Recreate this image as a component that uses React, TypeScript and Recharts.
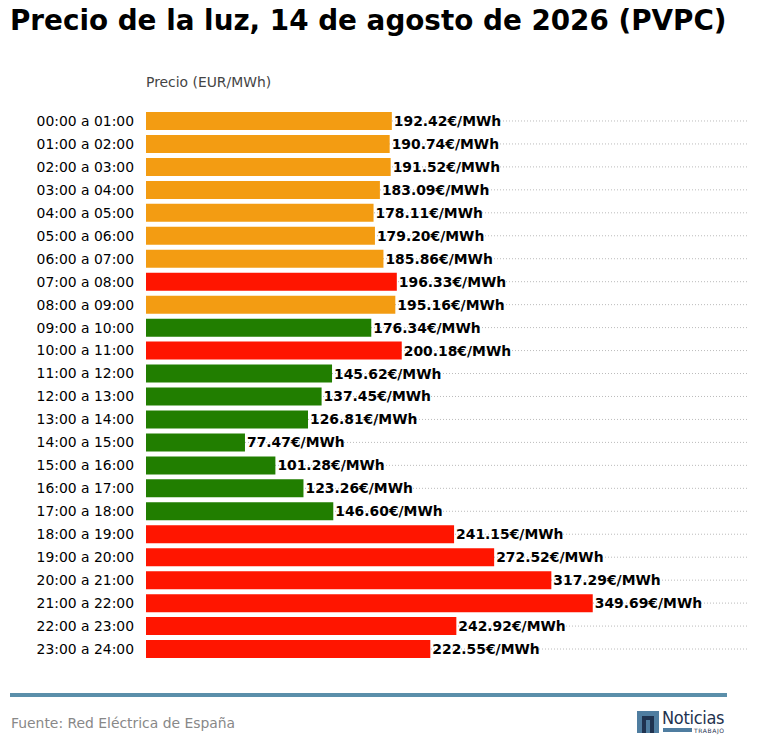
import React from "react";
import {
  Bar,
  BarChart,
  CartesianGrid,
  Cell,
  LabelList,
  XAxis,
  YAxis,
} from "recharts";

const horas = [
  "00:00 a 01:00", "01:00 a 02:00", "02:00 a 03:00", "03:00 a 04:00",
  "04:00 a 05:00", "05:00 a 06:00", "06:00 a 07:00", "07:00 a 08:00",
  "08:00 a 09:00", "09:00 a 10:00", "10:00 a 11:00", "11:00 a 12:00",
  "12:00 a 13:00", "13:00 a 14:00", "14:00 a 15:00", "15:00 a 16:00",
  "16:00 a 17:00", "17:00 a 18:00", "18:00 a 19:00", "19:00 a 20:00",
  "20:00 a 21:00", "21:00 a 22:00", "22:00 a 23:00", "23:00 a 24:00",
];

const precios = [
  192.42, 190.74, 191.52, 183.09, 178.11, 179.2, 185.86, 196.33,
  195.16, 176.34, 200.18, 145.62, 137.45, 126.81, 77.47, 101.28,
  123.26, 146.6, 241.15, 272.52, 317.29, 349.69, 242.92, 222.55,
];

// nivel de precio de cada hora, tal como viene coloreado
const niveles = [
  "medio", "medio", "medio", "medio", "medio", "medio", "medio", "alto",
  "medio", "bajo", "alto", "bajo", "bajo", "bajo", "bajo", "bajo",
  "bajo", "bajo", "alto", "alto", "alto", "alto", "alto", "alto",
];

const colores: Record<string, string> = {
  bajo: "#217E00",
  medio: "#F39C12",
  alto: "#FF1500",
};

const data = horas.map((hora, i) => ({ hora, precio: precios[i], nivel: niveles[i] }));

const font = "DejaVu Sans, sans-serif";
const fs = 13.9;

export default function App() {
  return (
    <div
      style={{
        position: "absolute",
        top: 0,
        left: 0,
        width: 759,
        height: 755,
        background: "#fff",
        fontFamily: font,
        overflow: "hidden",
      }}
    >
      <div
        style={{
          position: "absolute",
          left: 10,
          top: 4,
          fontSize: 27.8,
          fontWeight: "bold",
          color: "#000",
          whiteSpace: "nowrap",
        }}
      >
        Precio de la luz, 14 de agosto de 2026 (PVPC)
      </div>
      <div
        style={{
          position: "absolute",
          left: 146,
          top: 74,
          fontSize: fs,
          color: "#444",
          whiteSpace: "nowrap",
        }}
      >
        Precio (EUR/MWh)
      </div>

      <BarChart
        width={759}
        height={755}
        data={data}
        layout="vertical"
        margin={{ top: 109.5, right: 10, bottom: 94.5, left: 0 }}
        barCategoryGap="11%"
        style={{ position: "absolute", top: 0, left: 0 }}
      >
        <CartesianGrid
          horizontal
          vertical={false}
          syncWithTicks
          stroke="#bbb"
          strokeDasharray="1 2"
        />
        <XAxis type="number" domain={[0, 472]} allowDataOverflow hide />
        <YAxis
          type="category"
          dataKey="hora"
          width={146}
          tickLine={false}
          axisLine={false}
          tickSize={0}
          tickMargin={12}
          tick={{ fontSize: fs, fill: "#000", fontFamily: font }}
          interval={0}
        />
        <Bar dataKey="precio" isAnimationActive={false}>
          {data.map((d, i) => (
            <Cell key={i} fill={colores[d.nivel]} />
          ))}
          <LabelList
            dataKey="precio"
            position="right"
            offset={2}
            formatter={(v: number) => `${v.toFixed(2)}€/MWh`}
            style={{ fontSize: fs, fontWeight: "bold", fill: "#000", fontFamily: font }}
          />
        </Bar>
      </BarChart>

      <div
        style={{
          position: "absolute",
          left: 10,
          top: 693,
          width: 717,
          height: 4,
          background: "#5B8FAA",
        }}
      />
      <div
        style={{
          position: "absolute",
          left: 11,
          top: 715,
          fontSize: fs,
          color: "#888",
          whiteSpace: "nowrap",
        }}
      >
        Fuente: Red Eléctrica de España
      </div>

      <div
        style={{
          position: "absolute",
          left: 637,
          top: 711,
          width: 22,
          height: 22,
          background: "#4F7DA0",
        }}
      >
        <div
          style={{
            position: "absolute",
            left: 5,
            top: 5,
            width: 12,
            height: 17,
            background: "#1F3350",
          }}
        />
        <div
          style={{
            position: "absolute",
            left: 9,
            top: 9,
            width: 4,
            height: 13,
            background: "#4F7DA0",
          }}
        />
      </div>
      <div
        style={{
          position: "absolute",
          left: 662,
          top: 708,
          fontSize: 18,
          lineHeight: "19px",
          color: "#1F3350",
          fontFamily: "DejaVu Sans Condensed, DejaVu Sans, sans-serif",
          whiteSpace: "nowrap",
          letterSpacing: -0.3,
        }}
      >
        Noticias
      </div>
      <div
        style={{
          position: "absolute",
          left: 663,
          top: 728,
          width: 29,
          height: 4,
          background: "#4F7DA0",
        }}
      />
      <div
        style={{
          position: "absolute",
          left: 694,
          top: 727,
          fontSize: 6,
          lineHeight: "7px",
          color: "#1F3350",
          letterSpacing: 0.6,
          whiteSpace: "nowrap",
        }}
      >
        TRABAJO
      </div>
    </div>
  );
}
